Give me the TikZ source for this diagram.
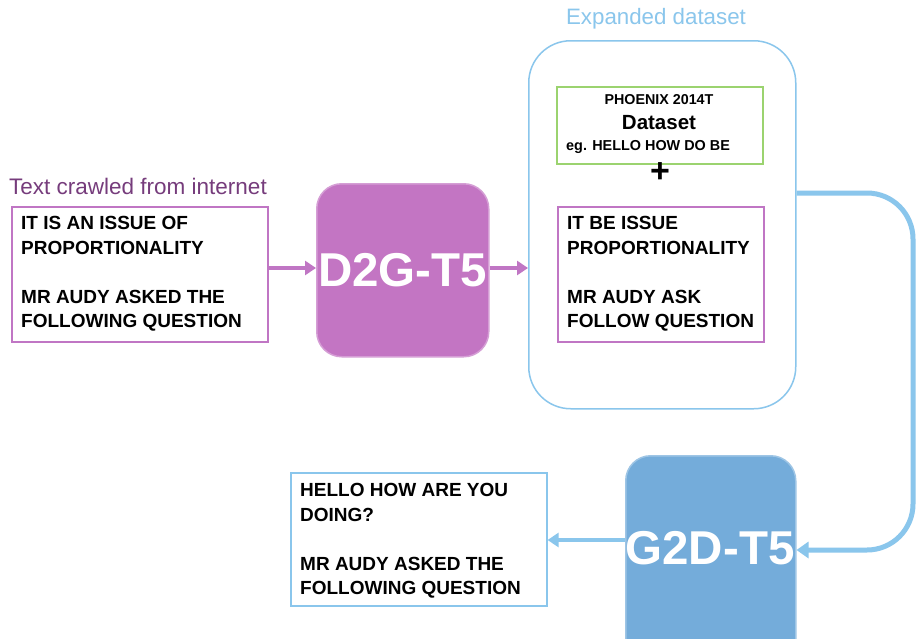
\documentclass[tikz,border=0pt]{standalone}
\usepackage{fontspec}
\setmainfont{Liberation Sans}
\usetikzlibrary{arrows.meta}
\definecolor{purp}{HTML}{C076C4}
\definecolor{purpfill}{HTML}{C375C3}
\definecolor{purptext}{HTML}{763C7C}
\definecolor{lblue}{HTML}{8AC6EC}
\definecolor{bluefill}{HTML}{74ACDA}
\definecolor{lgreen}{HTML}{9BD36F}
\tikzset{
  txtbox/.style={draw=#1, line width=1.6pt, minimum width=256pt, minimum height=135pt, inner sep=0pt},
  bodytext/.style={font=\bfseries\fontsize{19}{24.6}\selectfont, align=left, anchor=north west, inner sep=0pt},
  model/.style={rounded corners=25pt, fill=#1, draw=#1!70!white, line width=1.5pt, minimum width=172pt, inner sep=0pt},
  modeltext/.style={text=white, font=\bfseries\fontsize{47.5}{48}\selectfont, inner sep=0pt},
  parrow/.style={draw=purp, line width=4pt, -{Triangle[length=11pt,width=14pt]}},
  barrow/.style={draw=lblue, line width=4pt, -{Triangle[length=11pt,width=14pt]}},
}
\begin{document}
\begin{tikzpicture}[x=1pt,y=-1pt]
\useasboundingbox (0,0) rectangle (922,638);
\clip (0,0) rectangle (922,638);
\fill[white] (0,0) rectangle (922,638);

% left input
\node[text=purptext, font=\fontsize{22.5}{24}\selectfont, anchor=west, inner sep=0pt] (lbl1) at (9,186) {Text crawled from internet};
\node[txtbox=purp, anchor=north west] (inbox) at (11,206) {};
\node[bodytext] (intext) at (21,216) {IT IS AN ISSUE OF\\PROPORTIONALITY\\[24.6pt]MR AUDY ASKED THE\\FOLLOWING QUESTION};

% D2G-T5
\node[model=purpfill, minimum height=173pt, anchor=north west] (d2g) at (316,183) {};
\node[modeltext] (d2gt) at (d2g.center) {D2G-T5};

% expanded dataset
\node[draw=lblue, line width=1.5pt, rounded corners=42pt, minimum width=267pt, minimum height=368pt, anchor=north west, inner sep=0pt] (exp) at (528,40) {};
\node[text=lblue, font=\fontsize{22.3}{24}\selectfont, inner sep=0pt] (lbl2) at (656,19) {Expanded dataset};

\node[draw=lgreen, line width=1.5pt, minimum width=206pt, minimum height=77pt, anchor=north west, inner sep=0pt] (green) at (556,86) {};
\node[font=\bfseries\fontsize{14.3}{15}\selectfont, inner sep=0pt] (ph1) at (659,100) {PHOENIX 2014T};
\node[font=\bfseries\fontsize{20.5}{21}\selectfont, inner sep=0pt] (ph2) at (659,123) {Dataset};
\node[font=\bfseries\fontsize{14.4}{15}\selectfont, inner sep=0pt, anchor=west] (ph3) at (566,147) {eg. HELLO HOW DO BE};
\node[font=\bfseries\fontsize{34}{34}\selectfont, inner sep=0pt] (plus) at (660,173) {+};

\node[txtbox=purp, minimum width=206pt, anchor=north west] (glossbox) at (557,206) {};
\node[bodytext] (glosstext) at (567,216) {IT BE ISSUE\\PROPORTIONALITY\\[24.6pt]MR AUDY ASK\\FOLLOW QUESTION};

% G2D-T5
\node[model=bluefill, minimum width=170pt, minimum height=220pt, anchor=north west] (g2d) at (625,455) {};
\node[modeltext] (g2dt) at (710,548) {G2D-T5};

% output
\node[txtbox=lblue, minimum height=133pt, anchor=north west] (outbox) at (290,472) {};
\node[bodytext] (outtext) at (300,483) {HELLO HOW ARE YOU\\DOING?\\[24.6pt]MR AUDY ASKED THE\\FOLLOWING QUESTION};

% connectors
\draw[parrow] (inbox.east |- 0,268) -- (d2g.west |- 0,268);
\draw[parrow] (d2g.east |- 0,268) -- (exp.west |- 0,268);
\coordinate (c1) at (913,193);
\coordinate (c2) at (913,550);
\draw[draw=lblue, line width=5pt, rounded corners=46pt, -{Triangle[length=12pt,width=16pt]}] (exp.east |- 0,193) -- (c1) -- (c2) -- (g2d.east |- 0,550);
\draw[barrow] (g2d.west |- 0,540) -- (outbox.east |- 0,540);
\end{tikzpicture}
\end{document}
